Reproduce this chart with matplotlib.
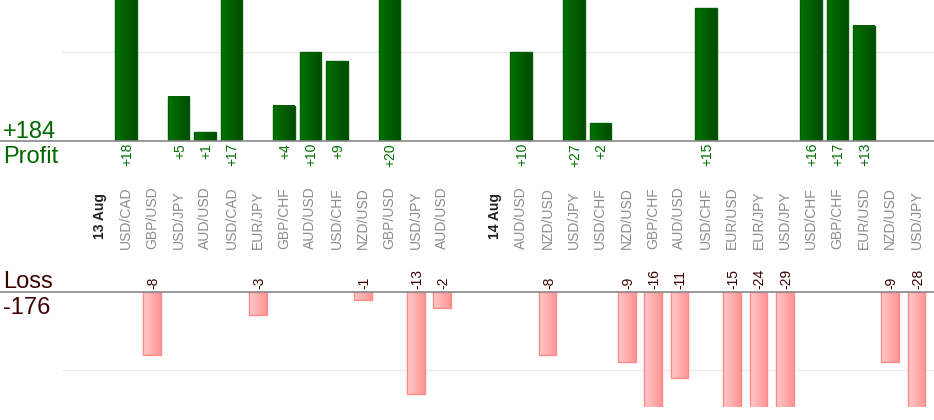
import matplotlib.pyplot as plt
import matplotlib.transforms as mtransforms
import numpy as np

plt.rcParams['font.family'] = ['Liberation Sans', 'DejaVu Sans']

days = ['13 Aug', '14 Aug']
pairs_13 = ['USD/CAD', 'GBP/USD', 'USD/JPY', 'AUD/USD', 'USD/CAD', 'EUR/JPY', 'GBP/CHF',
            'AUD/USD', 'USD/CHF', 'NZD/USD', 'GBP/USD', 'USD/JPY', 'AUD/USD']
pnl_13 = [18, -8, 5, 1, 17, -3, 4, 10, 9, -1, 20, -13, -2]
pairs_14 = ['AUD/USD', 'NZD/USD', 'USD/JPY', 'USD/CHF', 'NZD/USD', 'GBP/CHF', 'AUD/USD',
            'USD/CHF', 'EUR/USD', 'EUR/JPY', 'USD/JPY', 'USD/CHF', 'GBP/CHF', 'EUR/USD',
            'NZD/USD', 'USD/JPY']
pnl_14 = [10, -8, 27, 2, -9, -16, -11, 15, -15, -24, -29, 16, 17, 13, -9, -28]

W, H = 934, 420
fig = plt.figure(figsize=(W / 100, H / 100), dpi=100)


def fy(px):
    return 1 - px / H


# slot layout: day label, trades, empty slot, day label, trades
slots = []
day_pos = []
pos = 0
for d, (pairs, pnl) in zip(days, [(pairs_13, pnl_13), (pairs_14, pnl_14)]):
    day_pos.append((pos, d))
    pos += 1
    for p, v in zip(pairs, pnl):
        slots.append((pos, p, v))
        pos += 1
    pos += 1

x0, x1 = -3.78, 31.66
ax_top = fig.add_axes([0, fy(141), 1, 141 / H])
ax_bot = fig.add_axes([0, fy(407), 1, (407 - 292) / H])
ax_top.set_xlim(x0, x1)
ax_bot.set_xlim(x0, x1)
ax_top.set_ylim(0, 15.93)
ax_bot.set_ylim(-14.7, 0)
for ax in (ax_top, ax_bot):
    ax.axis('off')

grid_x0 = -1.39
ax_top.plot([grid_x0, x1], [10, 10], color='#ebebeb', lw=1, zorder=0)
ax_bot.plot([grid_x0, x1], [-10, -10], color='#ebebeb', lw=1, zorder=0)
ax_top.plot([x0, x1], [0, 0], color='#888888', lw=1.2, clip_on=False, zorder=5)
ax_bot.plot([x0, x1], [0, 0], color='#888888', lw=1.2, clip_on=False, zorder=5)

grad = np.linspace(0, 1, 64).reshape(1, -1)
green_grad = plt.matplotlib.colors.LinearSegmentedColormap.from_list('g', ['#007400', '#004a00'])
red_grad = plt.matplotlib.colors.LinearSegmentedColormap.from_list('r', ['#ffcaca', '#ff9393'])

for x, p, v in slots:
    if v > 0:
        w = 0.82
        ax_top.imshow(grad, cmap=green_grad, aspect='auto', zorder=2,
                      extent=(x - w / 2, x + w / 2, 0, v))
        ax_top.bar(x, v, w, color='none', edgecolor='#006000', lw=1, zorder=3)
    else:
        w = 0.67
        ax_bot.imshow(grad, cmap=red_grad, aspect='auto', zorder=2,
                      extent=(x - w / 2, x + w / 2, v, 0))
        ax_bot.bar(x, v, w, color='none', edgecolor='#ff8a8a', lw=1, zorder=3)

ax_top.set_xlim(x0, x1)
ax_bot.set_xlim(x0, x1)
ax_top.set_ylim(0, 15.93)
ax_bot.set_ylim(-14.7, 0)

tr = mtransforms.blended_transform_factory(ax_top.transData, fig.transFigure)
for x, p, v in slots:
    fig.text(x, fy(249), p, transform=tr, rotation=90, ha='center', va='bottom',
             fontsize=10, color='#8c8c8c')
    if v > 0:
        fig.text(x + 0.05, fy(143), '+%d' % v, transform=tr, rotation=90, ha='center',
                 va='top', fontsize=10, color='#007000')
    else:
        fig.text(x + 0.05, fy(289), '%d' % v, transform=tr, rotation=90, ha='center',
                 va='bottom', fontsize=10, color='#3c0000')
for x, d in day_pos:
    fig.text(x, fy(216), d, transform=tr, rotation=90, ha='center', va='center',
             fontsize=10, fontweight='bold', color='#222222')

profit = sum(v for _, _, v in slots if v > 0)
loss = sum(v for _, _, v in slots if v < 0)
fig.text(3 / W, fy(138), '+%d' % profit, fontsize=17, color='#006800', va='baseline')
fig.text(3 / W, fy(163), 'Profit', fontsize=17, color='#006800', va='baseline')
fig.text(3 / W, fy(288), 'Loss', fontsize=17, color='#3c0000', va='baseline')
fig.text(3 / W, fy(314), '%d' % loss, fontsize=17, color='#3c0000', va='baseline')

fig.savefig('out.png', dpi=100)
